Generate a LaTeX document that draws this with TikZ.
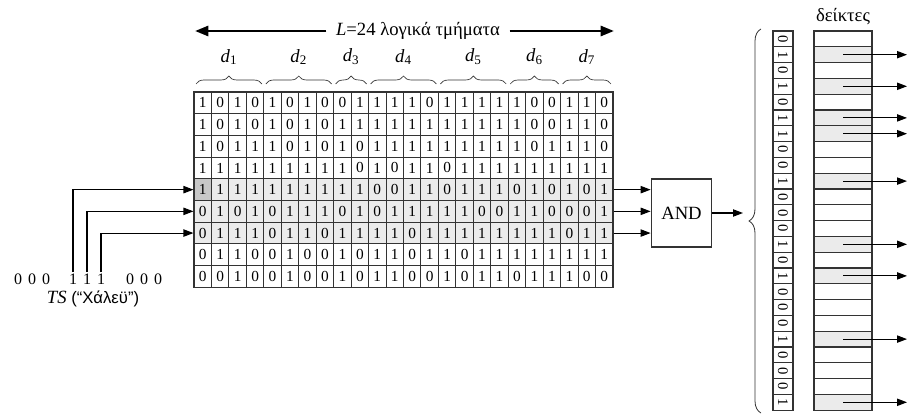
\documentclass[tikz,border=0pt]{standalone}
\usepackage{fontspec}
\setmainfont{Liberation Serif}
\newfontfamily\arialgr{Liberation Sans}
\usetikzlibrary{arrows.meta,decorations.pathreplacing}

\begin{document}
\begin{tikzpicture}[x=0.75pt,y=-0.75pt]
  \tikzstyle{cell} = [draw=black!80, line width=0.8pt, minimum width=13.09pt, minimum height=16.28pt, inner sep=0pt, font=\fontsize{11.5}{12}\selectfont]
  \tikzstyle{sel} = [cell, fill=black!8]
  \tikzstyle{cur} = [cell, fill=black!22]
  \tikzstyle{rescell} = [draw=black!80, line width=0.8pt, minimum width=15pt, minimum height=11.85pt, inner sep=0pt, font=\fontsize{11}{12}\selectfont]
  \tikzstyle{ptrcell} = [draw=black!80, line width=0.8pt, minimum width=43.5pt, minimum height=11.85pt, inner sep=0pt]
  \tikzstyle{gate} = [draw=black!80, line width=0.8pt, minimum width=45.5pt, minimum height=51pt, font=\fontsize{14}{16}\selectfont]
  \tikzstyle{arr} = [line width=0.8pt, -{Triangle[length=7.5pt,width=5.5pt]}]
  \tikzstyle{bigarr} = [line width=2pt, -{Triangle[length=10pt,width=7.5pt]}]
  \tikzstyle{seg} = [decorate, decoration={brace, amplitude=6pt}, line width=0.5pt, black!80]
  \tikzstyle{lbl} = [font=\fontsize{14}{16}\selectfont]
  \useasboundingbox (0,0) rectangle (908,417);

  % the signature file, 9 signatures of 24 bits
  \foreach \bits [count=\r] in {
      {1,0,1,0,1,0,1,0,0,1,1,1,1,0,1,1,1,1,1,0,0,1,1,0},
      {1,0,1,0,1,0,1,0,1,1,1,1,1,1,1,1,1,1,1,0,0,1,1,0},
      {1,0,1,1,1,0,1,0,1,0,1,1,1,1,1,1,1,1,1,0,1,1,1,0},
      {1,1,1,1,1,1,1,1,1,0,1,0,1,1,0,1,1,1,1,1,1,1,1,1},
      {1,1,1,1,1,1,1,1,1,1,0,0,1,1,0,1,1,1,0,1,0,1,0,1},
      {0,1,0,1,0,1,1,1,0,1,0,1,1,1,1,1,0,0,1,1,0,0,0,1},
      {0,1,1,1,0,1,1,0,1,1,1,1,0,1,1,1,1,1,1,1,1,0,1,1},
      {0,1,1,0,0,1,0,0,1,0,1,1,0,1,1,0,1,1,1,1,1,1,1,1},
      {0,0,1,0,0,1,0,0,1,0,1,1,0,0,1,0,1,1,0,1,1,1,0,0}} {
    \foreach \b [count=\c] in \bits {
      \ifnum\r>4 \ifnum\r<8 \def\cs{sel}\else\def\cs{cell}\fi \else\def\cs{cell}\fi
      \ifnum\r=5 \ifnum\c=1 \def\cs{cur}\fi\fi
      \node[\cs] (g-\r-\c) at ({194+(\c-0.5)*17.458},{92+(\r-0.5)*21.7}) {\b};
    }
  }

  % length of a signature and its logical blocks
  \node[lbl, inner sep=7pt] (L) at (418,31) {\textit{L}=24 λογικά τμήματα};
  \coordinate (Lw) at (195,31);
  \coordinate (Le) at (614,31);
  \draw[bigarr] (L) -- (Lw);
  \draw[bigarr] (L) -- (Le);
  \foreach \a/\b/\n in {0/4/1, 4/8/2, 8/10/3, 10/14/4, 14/18/5, 18/21/6, 21/24/7} {
    \draw[seg] ({194+\a*17.458+2},84) -- ({194+\b*17.458-2},84);
    \node[font=\fontsize{14}{16}\selectfont] (d\n) at ({194+(\a+\b)*8.729},57) {\textit{d}\textsubscript{\n}};
  }

  % query signature
  \foreach \x/\b [count=\k] in {18/0, 32/0, 46/0, 73/1, 87/1, 101/1, 130/0, 144/0, 158/0}
    \node[font=\fontsize{12}{14}\selectfont, inner sep=0pt] (s\k) at (\x,279) {\b};
  \node[lbl] (ts) at (93,299) {\textit{TS} {\arialgr\fontsize{12.5}{15}\selectfont (“Χάλεϋ”)}};
  \draw[arr] ([yshift=1pt]s4.north) |- (g-5-1.west);
  \draw[arr] ([yshift=1pt]s5.north) |- (g-6-1.west);
  \draw[arr] ([yshift=1pt]s6.north) |- (g-7-1.west);

  % AND of the selected blocks
  \node[gate] (and) at (681.5,213) {AND};
  \foreach \r in {5,6,7}
    \draw[arr] (g-\r-24.east) -- (g-\r-24.east -| and.west);
  \coordinate (bt) at (743,213);
  \draw[arr] (and) -- (bt);
  \draw[decorate, decoration={brace, amplitude=9pt}, line width=0.6pt, black!80] (761,413) -- (761,29);

  % result vector and pointers
  \node[lbl] (ptr) at (843,17) {δείκτες};
  \foreach \b [count=\i] in {0,1,0,1,0,1,1,0,0,1,0,0,0,1,0,1,0,0,0,1,0,0,0,1} {
    \node[rescell] (r-\i) at (783,{31+(\i-0.5)*15.8}) {\rotatebox{-90}{\b}};
    \ifnum\b=1
      \node[ptrcell, fill=black!8] (p-\i) at (843,{31+(\i-0.5)*15.8}) {};
      \coordinate (q-\i) at (907,{31+(\i-0.5)*15.8});
      \draw[arr] (p-\i.center) -- (q-\i);
    \else
      \node[ptrcell] (p-\i) at (843,{31+(\i-0.5)*15.8}) {};
    \fi
  }
\end{tikzpicture}
\end{document}
